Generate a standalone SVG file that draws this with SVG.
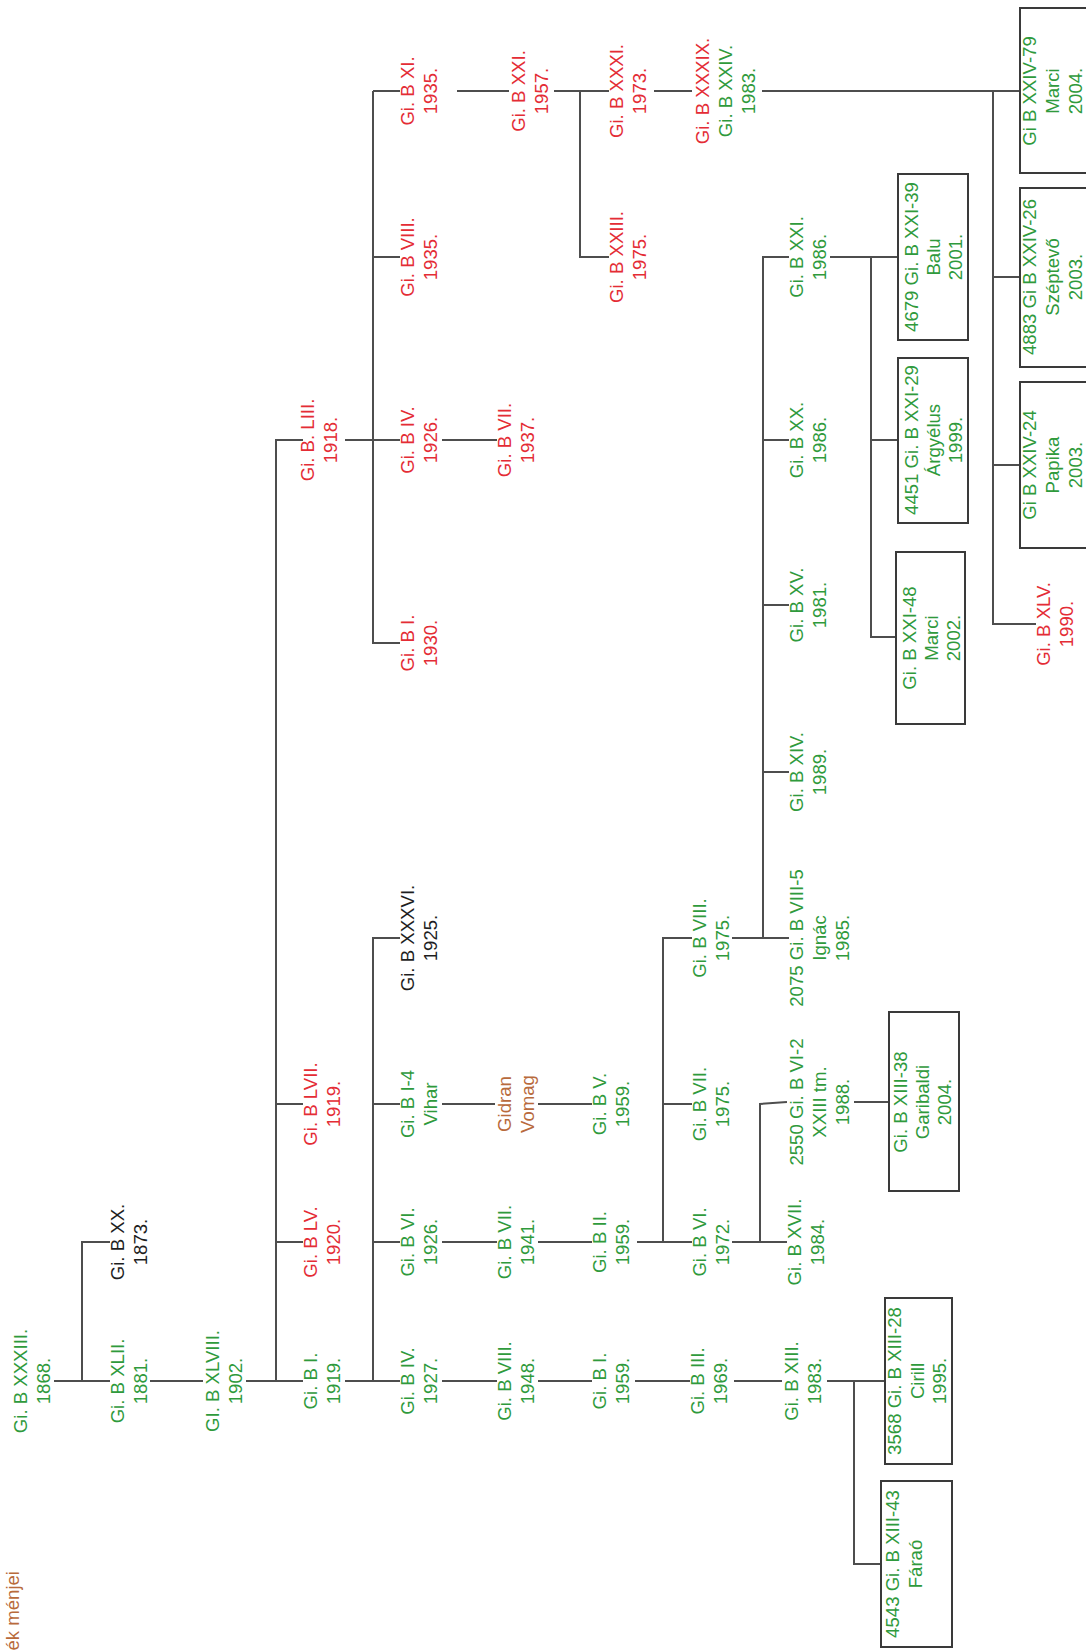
<svg xmlns="http://www.w3.org/2000/svg" width="1086" height="1650" viewBox="0 0 1086 1650">
<style>
.t{font-family:"Liberation Sans",Arial,sans-serif;font-size:18.6px;text-anchor:middle}
.g{fill:#2f9a3c}.r{fill:#e42c35}.k{fill:#1e1e1e}.b{fill:#b86a3c}
.ln{stroke:#4e4e4e;stroke-width:2;fill:none}
.bx{fill:none;stroke:#3a3a3a;stroke-width:2}
</style>
<rect width="1086" height="1650" fill="#ffffff"/>
<g id="connectors" class="ln">
<path d="M54,1381H110M82,1381V1242H110"/>
<path d="M150,1381H203"/>
<path d="M246,1381H303M276,1381V440H303M276,1104H303M276,1242H303"/>
<path d="M345,1381H400M373,1381V938H400M373,1104H400M373,1242H400"/>
<path d="M345,440H400M373,91V643H400M373,91H400M373,257H400"/>
<path d="M442,440H497"/>
<path d="M457,91H509"/>
<path d="M554,91H609M580,91V257H609"/>
<path d="M654,91H692"/>
<path d="M762,91H1020M993,91V624H1036M993,277H1020M993,465H1020"/>
<path d="M442,1104H495M538,1104H592"/>
<path d="M442,1242H497M538,1242H592M637,1242H692M663,1242V938H692M663,1104H692"/>
<path d="M442,1381H497M538,1381H592M635,1381H690M734,1381H782"/>
<path d="M732,1242H787M760,1242V1104L787,1102"/>
<path d="M732,938H789M763,938V257H789M763,440H789M763,605H789M763,772H789"/>
<path d="M830,257H898M871,257V637H896M871,440H898"/>
<path d="M854,1102H889"/>
<path d="M827,1381H885M854,1381V1564H881"/>
</g>
<g id="n1"><text class="t g" transform="translate(0,1381) rotate(-90)"><tspan x="0" y="27">Gi. B XXXIII.</tspan><tspan x="0" y="50">1868.</tspan></text></g>
<g id="n2"><text class="t k" transform="translate(0,1242) rotate(-90)"><tspan x="0" y="124">Gi. B XX.</tspan><tspan x="0" y="147">1873.</tspan></text></g>
<g id="n3"><text class="t g" transform="translate(0,1381) rotate(-90)"><tspan x="0" y="124">Gi. B XLII.</tspan><tspan x="0" y="147">1881.</tspan></text></g>
<g id="n4"><text class="t g" transform="translate(0,1381) rotate(-90)"><tspan x="0" y="219">GI. B XLVIII.</tspan><tspan x="0" y="242">1902.</tspan></text></g>
<g id="n5"><text class="t r" transform="translate(0,440) rotate(-90)"><tspan x="0" y="314">Gi. B. LIII.</tspan><tspan x="0" y="337">1918.</tspan></text></g>
<g id="n6"><text class="t r" transform="translate(0,1104) rotate(-90)"><tspan x="0" y="317">Gi. B LVII.</tspan><tspan x="0" y="340">1919.</tspan></text></g>
<g id="n7"><text class="t r" transform="translate(0,1242) rotate(-90)"><tspan x="0" y="317">Gi. B LV.</tspan><tspan x="0" y="340">1920.</tspan></text></g>
<g id="n8"><text class="t g" transform="translate(0,1381) rotate(-90)"><tspan x="0" y="317">Gi. B I.</tspan><tspan x="0" y="340">1919.</tspan></text></g>
<g id="n9"><text class="t r" transform="translate(0,91) rotate(-90)"><tspan x="0" y="414">Gi. B XI.</tspan><tspan x="0" y="437">1935.</tspan></text></g>
<g id="n10"><text class="t r" transform="translate(0,257) rotate(-90)"><tspan x="0" y="414">Gi. B VIII.</tspan><tspan x="0" y="437">1935.</tspan></text></g>
<g id="n11"><text class="t r" transform="translate(0,440) rotate(-90)"><tspan x="0" y="414">Gi. B IV.</tspan><tspan x="0" y="437">1926.</tspan></text></g>
<g id="n12"><text class="t r" transform="translate(0,643) rotate(-90)"><tspan x="0" y="414">Gi. B I.</tspan><tspan x="0" y="437">1930.</tspan></text></g>
<g id="n13"><text class="t k" transform="translate(0,938) rotate(-90)"><tspan x="0" y="414">Gi. B XXXVI.</tspan><tspan x="0" y="437">1925.</tspan></text></g>
<g id="n14"><text class="t g" transform="translate(0,1104) rotate(-90)"><tspan x="0" y="414">Gi. B I-4</tspan><tspan x="0" y="437">Vihar</tspan></text></g>
<g id="n15"><text class="t g" transform="translate(0,1242) rotate(-90)"><tspan x="0" y="414">Gi. B VI.</tspan><tspan x="0" y="437">1926.</tspan></text></g>
<g id="n16"><text class="t g" transform="translate(0,1381) rotate(-90)"><tspan x="0" y="414">Gi. B IV.</tspan><tspan x="0" y="437">1927.</tspan></text></g>
<g id="n17"><text class="t r" transform="translate(0,91) rotate(-90)"><tspan x="0" y="525">Gi. B XXI.</tspan><tspan x="0" y="548">1957.</tspan></text></g>
<g id="n18"><text class="t r" transform="translate(0,440) rotate(-90)"><tspan x="0" y="511">Gi. B VII.</tspan><tspan x="0" y="534">1937.</tspan></text></g>
<g id="n19"><text class="t b" transform="translate(0,1104) rotate(-90)"><tspan x="0" y="511">Gidran</tspan><tspan x="0" y="534">Vomag</tspan></text></g>
<g id="n20"><text class="t g" transform="translate(0,1242) rotate(-90)"><tspan x="0" y="511">Gi. B VII.</tspan><tspan x="0" y="534">1941.</tspan></text></g>
<g id="n21"><text class="t g" transform="translate(0,1381) rotate(-90)"><tspan x="0" y="511">Gi. B VIII.</tspan><tspan x="0" y="534">1948.</tspan></text></g>
<g id="n22"><text class="t r" transform="translate(0,91) rotate(-90)"><tspan x="0" y="623">Gi. B XXXI.</tspan><tspan x="0" y="646">1973.</tspan></text></g>
<g id="n23"><text class="t r" transform="translate(0,257) rotate(-90)"><tspan x="0" y="623">Gi. B XXIII.</tspan><tspan x="0" y="646">1975.</tspan></text></g>
<g id="n24"><text class="t g" transform="translate(0,1104) rotate(-90)"><tspan x="0" y="606">Gi. B V.</tspan><tspan x="0" y="629">1959.</tspan></text></g>
<g id="n25"><text class="t g" transform="translate(0,1242) rotate(-90)"><tspan x="0" y="606">Gi. B II.</tspan><tspan x="0" y="629">1959.</tspan></text></g>
<g id="n26"><text class="t g" transform="translate(0,1381) rotate(-90)"><tspan x="0" y="606">Gi. B I.</tspan><tspan x="0" y="629">1959.</tspan></text></g>
<g id="n27"><text class="t g" transform="translate(0,91) rotate(-90)"><tspan x="0" y="709" class="r">Gi. B XXXIX.</tspan><tspan x="0" y="732">Gi. B XXIV.</tspan><tspan x="0" y="755">1983.</tspan></text></g>
<g id="n28"><text class="t g" transform="translate(0,938) rotate(-90)"><tspan x="0" y="706">Gi. B VIII.</tspan><tspan x="0" y="729">1975.</tspan></text></g>
<g id="n29"><text class="t g" transform="translate(0,1104) rotate(-90)"><tspan x="0" y="706">Gi. B VII.</tspan><tspan x="0" y="729">1975.</tspan></text></g>
<g id="n30"><text class="t g" transform="translate(0,1242) rotate(-90)"><tspan x="0" y="706">Gi. B VI.</tspan><tspan x="0" y="729">1972.</tspan></text></g>
<g id="n31"><text class="t g" transform="translate(0,1381) rotate(-90)"><tspan x="0" y="704">Gi. B III.</tspan><tspan x="0" y="727">1969.</tspan></text></g>
<g id="n32"><text class="t g" transform="translate(0,257) rotate(-90)"><tspan x="0" y="803">Gi. B XXI.</tspan><tspan x="0" y="826">1986.</tspan></text></g>
<g id="n33"><text class="t g" transform="translate(0,440) rotate(-90)"><tspan x="0" y="803">Gi. B XX.</tspan><tspan x="0" y="826">1986.</tspan></text></g>
<g id="n34"><text class="t g" transform="translate(0,605) rotate(-90)"><tspan x="0" y="803">Gi. B XV.</tspan><tspan x="0" y="826">1981.</tspan></text></g>
<g id="n35"><text class="t g" transform="translate(0,772) rotate(-90)"><tspan x="0" y="803">Gi. B XIV.</tspan><tspan x="0" y="826">1989.</tspan></text></g>
<g id="n36"><text class="t g" transform="translate(0,938) rotate(-90)"><tspan x="0" y="803">2075 Gi. B VIII-5</tspan><tspan x="0" y="826">Ignác</tspan><tspan x="0" y="849">1985.</tspan></text></g>
<g id="n37"><text class="t g" transform="translate(0,1102) rotate(-90)"><tspan x="0" y="803">2550 Gi. B VI-2</tspan><tspan x="0" y="826">XXIII tm.</tspan><tspan x="0" y="849">1988.</tspan></text></g>
<g id="n38"><text class="t g" transform="translate(0,1242) rotate(-90)"><tspan x="0" y="801">Gi. B XVII.</tspan><tspan x="0" y="824">1984.</tspan></text></g>
<g id="n39"><text class="t g" transform="translate(0,1381) rotate(-90)"><tspan x="0" y="798">Gi. B XIII.</tspan><tspan x="0" y="821">1983.</tspan></text></g>
<g id="n40"><rect class="bx" x="898" y="174" width="70" height="166"/><text class="t g" transform="translate(0,257) rotate(-90)"><tspan x="0" y="918">4679 Gi. B XXI-39</tspan><tspan x="0" y="940">Balu</tspan><tspan x="0" y="962">2001.</tspan></text></g>
<g id="n41"><rect class="bx" x="898" y="358" width="70" height="165"/><text class="t g" transform="translate(0,440) rotate(-90)"><tspan x="0" y="918">4451 Gi. B XXI-29</tspan><tspan x="0" y="940">Árgyélus</tspan><tspan x="0" y="962">1999.</tspan></text></g>
<g id="n42"><rect class="bx" x="896" y="552" width="69" height="172"/><text class="t g" transform="translate(0,638) rotate(-90)"><tspan x="0" y="916">Gi. B XXI-48</tspan><tspan x="0" y="938">Marci</tspan><tspan x="0" y="960">2002.</tspan></text></g>
<g id="n43"><rect class="bx" x="889" y="1012" width="70" height="179"/><text class="t g" transform="translate(0,1102) rotate(-90)"><tspan x="0" y="907">Gi. B XIII-38</tspan><tspan x="0" y="929">Garibaldi</tspan><tspan x="0" y="951">2004.</tspan></text></g>
<g id="n44"><rect class="bx" x="885" y="1298" width="67" height="166"/><text class="t g" transform="translate(0,1381) rotate(-90)"><tspan x="0" y="901">3568 Gi. B XIII-28</tspan><tspan x="0" y="924">Cirill</tspan><tspan x="0" y="946">1995.</tspan></text></g>
<g id="n45"><rect class="bx" x="881" y="1481" width="71" height="166"/><text class="t g" transform="translate(0,1564) rotate(-90)"><tspan x="0" y="899">4543 Gi. B XIII-43</tspan><tspan x="0" y="922">Fáraó</tspan></text></g>
<g id="n46"><rect class="bx" x="1020" y="8" width="80" height="165"/><text class="t g" transform="translate(0,91) rotate(-90)"><tspan x="0" y="1036">Gi B XXIV-79</tspan><tspan x="0" y="1059">Marci</tspan><tspan x="0" y="1082">2004.</tspan></text></g>
<g id="n47"><rect class="bx" x="1020" y="188" width="80" height="179"/><text class="t g" transform="translate(0,277) rotate(-90)"><tspan x="0" y="1036">4883 Gi B XXIV-26</tspan><tspan x="0" y="1059">Széptevő</tspan><tspan x="0" y="1082">2003.</tspan></text></g>
<g id="n48"><rect class="bx" x="1020" y="382" width="80" height="166"/><text class="t g" transform="translate(0,465) rotate(-90)"><tspan x="0" y="1036">Gi B XXIV-24</tspan><tspan x="0" y="1059">Papika</tspan><tspan x="0" y="1082">2003.</tspan></text></g>
<g id="n49"><text class="t r" transform="translate(0,624) rotate(-90)"><tspan x="0" y="1050">Gi. B XLV.</tspan><tspan x="0" y="1073">1990.</tspan></text></g>
<g id="title"><text class="t b" style="text-anchor:end" transform="translate(0,1571) rotate(-90)" x="0" y="19">ék ménjei</text></g>
</svg>
